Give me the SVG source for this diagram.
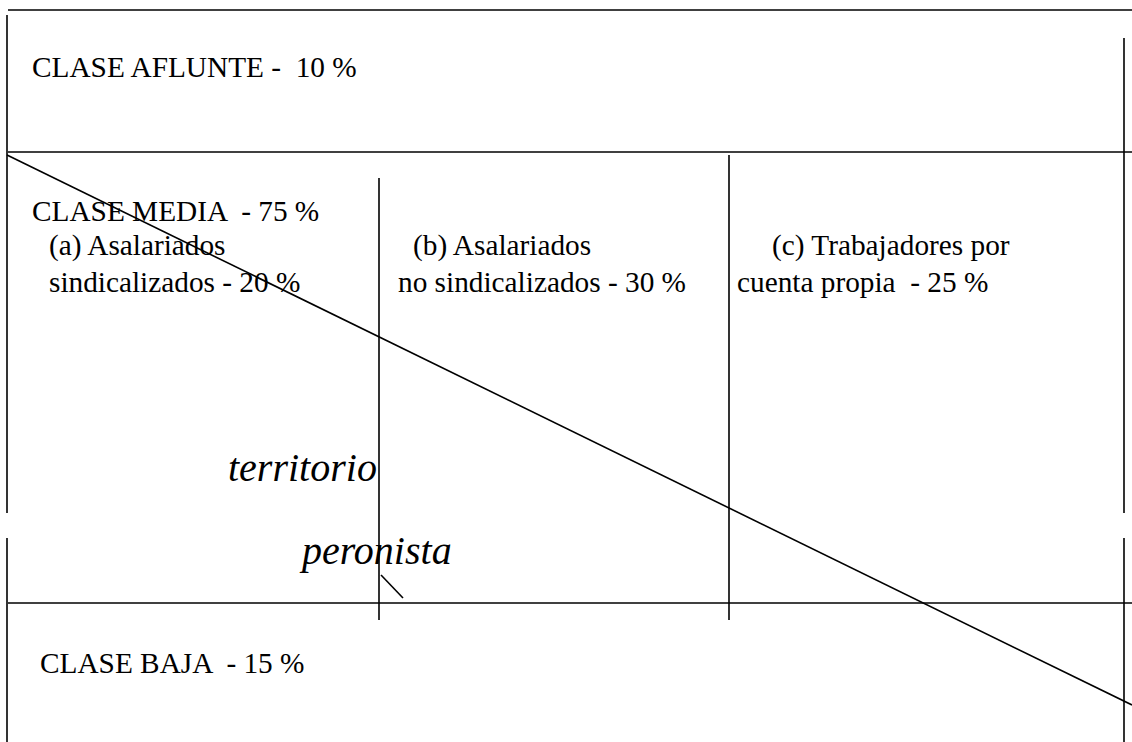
<svg xmlns="http://www.w3.org/2000/svg" width="1132" height="742" viewBox="0 0 1132 742">
<style>
.ln{stroke:#000;stroke-width:1.6;fill:none}
.t{font-family:"Liberation Serif","Times New Roman",serif;font-size:29.3px;fill:#000}
.it{font-family:"Liberation Serif","Times New Roman",serif;font-size:40px;font-style:italic;fill:#000}
</style>
<rect width="1132" height="742" fill="#fff"/>
<g id="connectors">
<line class="ln" x1="8" y1="10" x2="1132" y2="10"/>
<line class="ln" x1="8" y1="152" x2="1132" y2="152"/>
<line class="ln" x1="8" y1="603" x2="1132" y2="603"/>
<line class="ln" x1="7" y1="15" x2="7" y2="513"/>
<line class="ln" x1="7" y1="538" x2="7" y2="742"/>
<line class="ln" x1="1124" y1="38" x2="1124" y2="513"/>
<line class="ln" x1="1124" y1="538" x2="1124" y2="742"/>
<line class="ln" x1="379" y1="178" x2="379" y2="620"/>
<line class="ln" x1="729" y1="155" x2="729" y2="620"/>
<line class="ln" x1="7" y1="155" x2="1132" y2="705"/>
<line class="ln" x1="381" y1="575" x2="403" y2="598"/>
</g>
<g id="clase-afluente"><text class="t" x="32" y="77" xml:space="preserve">CLASE AFLUNTE -  10 %</text></g>
<g id="clase-media"><text class="t" x="32" y="221" xml:space="preserve">CLASE MEDIA  - 75 %</text></g>
<g id="asalariados-sindicalizados">
<text class="t" x="49" y="255">(a) Asalariados</text>
<text class="t" x="49" y="292">sindicalizados - 20 %</text>
</g>
<g id="asalariados-no-sindicalizados">
<text class="t" x="413" y="255">(b) Asalariados</text>
<text class="t" x="398" y="292">no sindicalizados - 30 %</text>
</g>
<g id="cuenta-propia">
<text class="t" x="772" y="255">(c) Trabajadores por</text>
<text class="t" x="737" y="292" xml:space="preserve">cuenta propia  - 25 %</text>
</g>
<g id="territorio-peronista">
<text class="it" x="228" y="481">territorio</text>
<text class="it" x="302" y="564">peronista</text>
</g>
<g id="clase-baja"><text class="t" x="40" y="673" xml:space="preserve">CLASE BAJA  - 15 %</text></g>
</svg>
